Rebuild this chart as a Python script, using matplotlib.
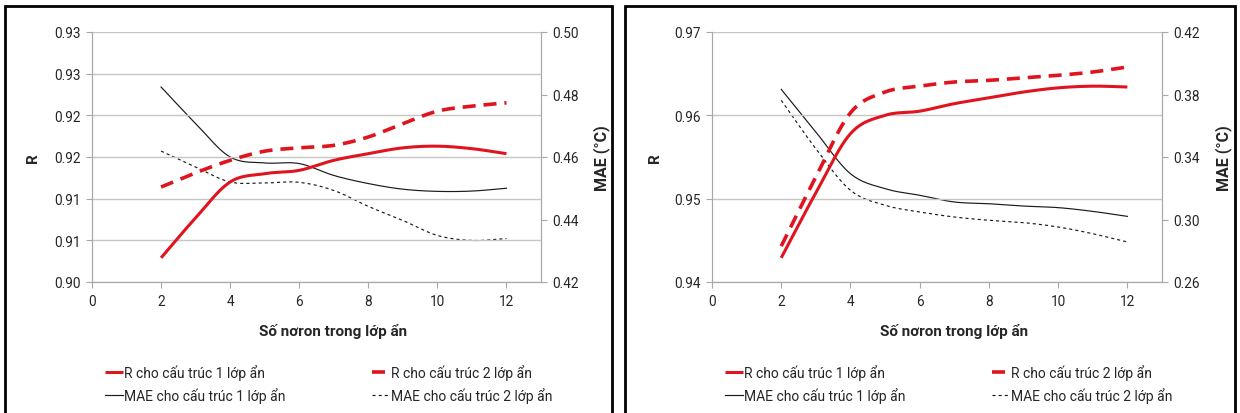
import matplotlib
matplotlib.use('Agg')
import matplotlib.pyplot as plt
import numpy as np
from matplotlib.patches import Rectangle

plt.rcParams['font.family'] = ['Roboto', 'DejaVu Sans']

# neurons in the hidden layer
neurons = [2, 3, 4, 5, 6, 7, 8, 9, 10, 11, 12]

# left chart
r1_a = [0.9029, 0.9077, 0.9120, 0.9130, 0.9134, 0.9146, 0.9154, 0.9161, 0.9163, 0.9160, 0.9154]
r2_a = [0.9114, 0.9131, 0.9146, 0.9157, 0.9161, 0.9164, 0.9174, 0.9190, 0.9205, 0.9211, 0.9215]
mae1_a = [0.4824, 0.4707, 0.4600, 0.4581, 0.4579, 0.4541, 0.4515, 0.4497, 0.4490, 0.4491, 0.4500]
mae2_a = [0.4619, 0.4568, 0.4520, 0.4517, 0.4519, 0.4493, 0.4442, 0.4397, 0.4349, 0.4333, 0.4339]

# right chart
r1_b = [0.9429, 0.9507, 0.9578, 0.9600, 0.9605, 0.9614, 0.9621, 0.9628, 0.9633, 0.9635, 0.9634]
r2_b = [0.9443, 0.9526, 0.9603, 0.9628, 0.9635, 0.9640, 0.9642, 0.9645, 0.9648, 0.9652, 0.9658]
mae1_b = [0.3833, 0.3560, 0.3293, 0.3197, 0.3155, 0.3112, 0.3101, 0.3086, 0.3076, 0.3052, 0.3020]
mae2_b = [0.3763, 0.3453, 0.3187, 0.3091, 0.3048, 0.3016, 0.2995, 0.2980, 0.2952, 0.2909, 0.2856]

# axis ticks
r_ticks_a = [0.900, 0.905, 0.910, 0.915, 0.920, 0.925, 0.930]
r_labels_a = ['0.90', '0.91', '0.91', '0.92', '0.92', '0.93', '0.93']
mae_ticks_a = [0.42, 0.44, 0.46, 0.48, 0.50]
r_ticks_b = [0.94, 0.95, 0.96, 0.97]
mae_ticks_b = [0.26, 0.30, 0.34, 0.38, 0.42]
x_ticks = [0, 2, 4, 6, 8, 10, 12]

labels = ['R cho cấu trúc 1 lớp ẩn', 'R cho cấu trúc 2 lớp ẩn',
          'MAE cho cấu trúc 1 lớp ẩn', 'MAE cho cấu trúc 2 lớp ẩn']

RED = '#e0141e'
GRID = '#c6c6c6'
TXT = '#262626'


# Excel-like smoothed line (Catmull-Rom through the points)
def smooth(x, y, n=24):
    x = np.asarray(x, float)
    y = np.asarray(y, float)
    px = np.concatenate([[2 * x[0] - x[1]], x, [2 * x[-1] - x[-2]]])
    py = np.concatenate([[2 * y[0] - y[1]], y, [2 * y[-1] - y[-2]]])
    t = np.linspace(0, 1, n, endpoint=False)
    xs, ys = [], []
    for i in range(1, len(px) - 2):
        for p, out in ((px, xs), (py, ys)):
            p0, p1, p2, p3 = p[i - 1], p[i], p[i + 1], p[i + 2]
            out.append(0.5 * (2 * p1 + (-p0 + p2) * t + (2 * p0 - 5 * p1 + 4 * p2 - p3) * t ** 2
                              + (-p0 + 3 * p1 - 3 * p2 + p3) * t ** 3))
    xs.append([x[-1]])
    ys.append([y[-1]])
    return np.concatenate(xs), np.concatenate(ys)


def panel(rect, r1, r2, mae1, mae2, rlim, rticks, rlabels, mlim, mticks, border, rpos, mpos):
    fig.add_artist(Rectangle(border[:2], border[2], border[3], transform=fig.transFigure,
                             fill=False, edgecolor='black', linewidth=2, clip_on=False))
    ax = fig.add_axes(rect)
    ax2 = ax.twinx()
    ax.set_zorder(ax2.get_zorder() + 1)
    ax.patch.set_visible(False)

    l1, = ax.plot(*smooth(neurons, r1), color=RED, lw=2.2, solid_capstyle='butt')
    l2, = ax.plot(*smooth(neurons, r2), color=RED, lw=2.6, dashes=(3.6, 2.2))
    l3, = ax2.plot(*smooth(neurons, mae1), color='#1a1a1a', lw=0.85)
    l4, = ax2.plot(*smooth(neurons, mae2), color='#1a1a1a', lw=0.85, dashes=(2.6, 2.6))

    ax.set_xlim(0, 13)
    ax.set_xticks(x_ticks)
    ax.set_ylim(*rlim)
    ax.set_yticks(rticks)
    ax.set_yticklabels(rlabels)
    ax2.set_ylim(*mlim)
    ax2.set_yticks(mticks)
    ax2.set_yticklabels(['%.2f' % v for v in mticks])
    ax.yaxis.grid(True, color=GRID, lw=1)
    ax.set_axisbelow(True)

    for a in (ax, ax2):
        a.spines['top'].set_visible(False)
        for s in ('left', 'right', 'bottom'):
            a.spines[s].set_color('#a8a8a8')
        a.tick_params(colors='#a8a8a8', labelcolor=TXT, labelsize=9.8, length=4, width=0.8)
    ax.tick_params(axis='x', pad=5)
    ax.tick_params(axis='y', pad=4)
    ax2.tick_params(axis='y', pad=4)

    ax.set_xlabel('Số nơron trong lớp ẩn', fontsize=11, fontweight='bold', color=TXT)
    ax.xaxis.set_label_coords(0.537, -0.164)
    ax.set_ylabel('R', fontsize=11, fontweight='bold', color=TXT)
    ax.yaxis.set_label_coords(rpos, 0.5)
    ax2.set_ylabel('MAE (°C)', fontsize=11.5, fontweight='bold', color=TXT)
    ax2.yaxis.set_label_coords(mpos, 0.5)

    leg = ax.legend([l1, l3, l2, l4], [labels[0], labels[2], labels[1], labels[3]],
                    ncol=2, loc='center left', frameon=False, fontsize=10,
                    bbox_to_anchor=(0.0, -0.405), handlelength=1.35, handletextpad=0.05,
                    columnspacing=6.2, labelspacing=0.5)
    for t in leg.get_texts():
        t.set_color(TXT)
    return ax


fig = plt.figure(figsize=(12.4, 4.14), dpi=100)

panel([92 / 1240, 1 - 283 / 414, 449 / 1240, 250 / 414],
      r1_a, r2_a, mae1_a, mae2_a, (0.90, 0.93), r_ticks_a, r_labels_a,
      (0.42, 0.50), mae_ticks_a, (5 / 1240, -0.05, 607 / 1240, 1 - 7 / 414 + 0.05),
      -0.116, 1.116)
panel([712 / 1240, 1 - 283 / 414, 450 / 1240, 250 / 414],
      r1_b, r2_b, mae1_b, mae2_b, (0.94, 0.97), r_ticks_b, ['%.2f' % v for v in r_ticks_b],
      (0.26, 0.42), mae_ticks_b, (625 / 1240, -0.05, 610 / 1240, 1 - 7 / 414 + 0.05),
      -0.111, 1.118)

fig.savefig('out.png', dpi=100)
